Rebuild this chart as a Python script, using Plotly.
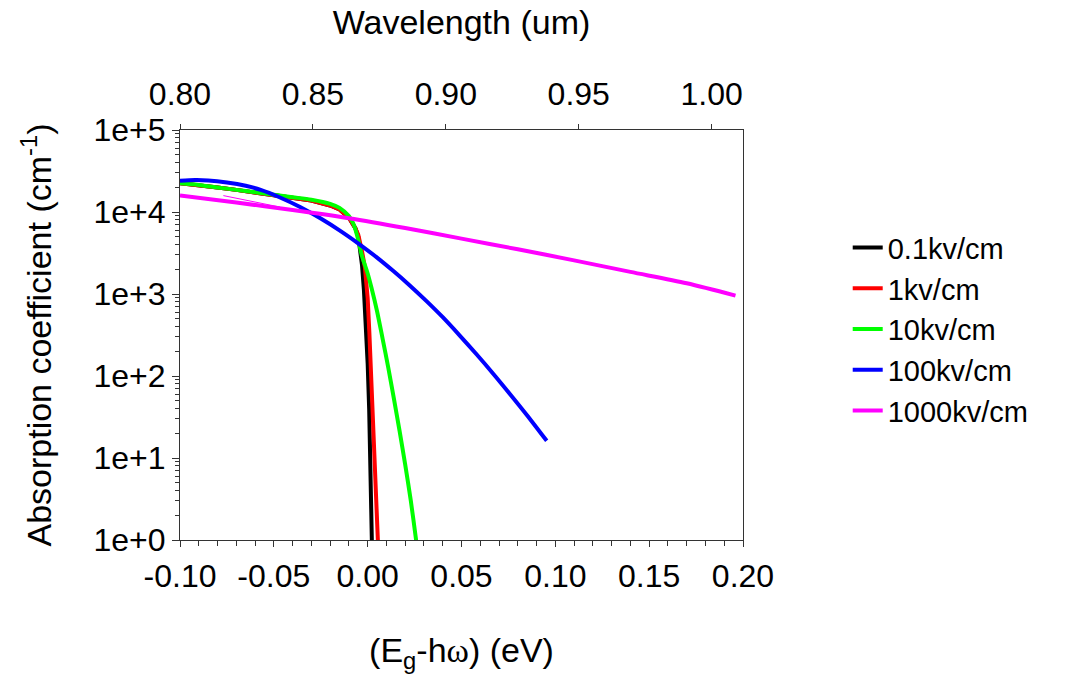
import plotly.graph_objects as go

# ---- data ----
x_black = [-0.100, -0.090, -0.080, -0.070, -0.060, -0.050, -0.040, -0.030, -0.020, -0.015, -0.010,
           -0.0065, -0.0050, -0.0040, -0.0030, -0.0020, -0.0010, 0.0000, 0.0008, 0.0015, 0.0022, 0.0024]
y_black = [22400, 21380, 19950, 18620, 17380, 16220, 15140, 13800, 12020, 10720, 8510,
           6310, 5010, 3550, 2240, 1120, 447, 141, 39.8, 8.9, 1.26, 0.63]

x_red = [-0.100, -0.090, -0.080, -0.070, -0.060, -0.050, -0.040, -0.030, -0.020, -0.015, -0.010,
         -0.0065, -0.0050, -0.0040, -0.0030, -0.0015, 0.0000, 0.0009, 0.0016, 0.0023, 0.0036, 0.0054, 0.0057]
y_red = [22400, 21380, 19950, 18620, 17380, 16220, 15140, 13800, 12020, 10720, 8510,
         6310, 5250, 4270, 3310, 2140, 891, 339, 132, 51.3, 7.9, 1.0, 0.71]

x_green = [-0.100, -0.090, -0.080, -0.070, -0.060, -0.050, -0.040, -0.030, -0.020, -0.015, -0.010,
           -0.0075, -0.0050, -0.0030, 0.0000, 0.0020, 0.0050, 0.0080, 0.0110, 0.0140, 0.0170,
           0.0200, 0.0230, 0.0258, 0.0265]
y_green = [22400, 21380, 19950, 18620, 17380, 16220, 15140, 14130, 12590, 11220, 8910,
           7080, 4570, 2880, 1780, 1200, 617, 282, 126, 52.5, 21.4,
           8.3, 3.0, 1.0, 0.76]

x_blue = [-0.100, -0.092, -0.085, -0.075, -0.065, -0.057, -0.047, -0.036, -0.025, -0.015, -0.004,
          0.005, 0.0137, 0.022, 0.0315, 0.040, 0.0492, 0.058, 0.067, 0.076, 0.0848, 0.0954]
y_blue = [23990, 24550, 24270, 22910, 20890, 18620, 15140, 11500, 8320, 5970, 3980,
          2780, 1905, 1300, 813, 521, 309, 184, 106, 59.6, 33.5, 16.2]

x_magenta = [-0.100, -0.070, -0.040, -0.010, 0.020, 0.050, 0.080, 0.110, 0.140, 0.170, 0.196]
y_magenta = [15850, 13030, 10590, 8410, 6380, 4730, 3510, 2570, 1860, 1350, 955]

# faint thin magenta segment visible in the reference
x_magenta_thin = [-0.0769, -0.0467]
y_magenta_thin = [15850, 11480]

series_names = ["0.1kv/cm", "1kv/cm", "10kv/cm", "100kv/cm", "1000kv/cm"]
series_colors = ["#000000", "#ff0000", "#00ff00", "#0000ff", "#ff00ff"]
series_shapes = ["linear", "linear", "spline", "spline", "spline"]

x_tickvals = [-0.10, -0.05, 0.00, 0.05, 0.10, 0.15, 0.20]
x_ticktext = ["-0.10", "-0.05", "0.00", "0.05", "0.10", "0.15", "0.20"]
wl_tickvals = [0.80, 0.85, 0.90, 0.95, 1.00]
wl_ticktext = ["0.80", "0.85", "0.90", "0.95", "1.00"]
y_tickvals = [1, 10, 100, 1000, 10000, 100000]
y_ticktext = ["1e+0", "1e+1", "1e+2", "1e+3", "1e+4", "1e+5"]
y_minor = [k * 10 ** d for d in range(5) for k in range(2, 10)]

energy_range = [-0.10, 0.20]
wavelength_range = [0.80, 1.0118]

FONT = "Liberation Sans, Arial, sans-serif"
FS_TICK = 32
FS_TITLE = 34
FS_LEG = 29

fig = go.Figure()
xs = [x_black, x_red, x_green, x_blue, x_magenta]
ys = [y_black, y_red, y_green, y_blue, y_magenta]
for xv, yv, name, col, shp in zip(xs, ys, series_names, series_colors, series_shapes):
    fig.add_trace(go.Scatter(x=xv, y=yv, mode="lines", name=name,
                             line=dict(color=col, width=4, shape=shp, smoothing=0.8)))
fig.add_trace(go.Scatter(x=x_magenta_thin, y=y_magenta_thin, mode="lines", showlegend=False,
                         line=dict(color="#ff00ff", width=1), hoverinfo="skip"))

axis_common = dict(showline=True, linecolor="#333333", linewidth=1, showgrid=False, zeroline=False,
                   tickcolor="#333333", tickfont=dict(family=FONT, size=FS_TICK, color="black"))

fig.update_layout(
    width=1070, height=682,
    margin=dict(l=180, r=327, t=130, b=142),
    paper_bgcolor="white", plot_bgcolor="white",
    font=dict(family=FONT, size=FS_TICK, color="black"),
    xaxis=dict(range=energy_range, tickvals=x_tickvals, ticktext=x_ticktext,
               ticks="outside", ticklen=6, ticklabelstandoff=2,
               minor=dict(dtick=0.01, ticks="outside", ticklen=5, tickcolor="#333333"),
               title=dict(text="(E<sub>g</sub>-h<span style=\"font-family:'Liberation Serif'\">ω</span>) (eV)",
                          font=dict(family=FONT, size=FS_TITLE), standoff=44),
               **axis_common),
    xaxis2=dict(range=wavelength_range, overlaying="x", side="top", anchor="y",
                tickvals=wl_tickvals, ticktext=wl_ticktext, ticks="outside", ticklen=5,
                ticklabelstandoff=6,
                title=dict(text="Wavelength (um)", font=dict(family=FONT, size=FS_TITLE), standoff=31),
                **axis_common),
    yaxis=dict(type="log", range=[0, 5], tickvals=y_tickvals, ticktext=y_ticktext,
               ticks="outside", ticklen=7, mirror=True,
               minor=dict(tickvals=y_minor, ticks="outside", ticklen=4, tickcolor="#333333"),
               title=dict(text="Absorption coefficient (cm<sup>-1</sup>)",
                          font=dict(family=FONT, size=FS_TITLE), standoff=31),
               **axis_common),
    legend=dict(x=1.186, xanchor="left", y=0.775, yanchor="top", font=dict(family=FONT, size=FS_LEG),
                bgcolor="rgba(0,0,0,0)", itemwidth=30, tracegroupgap=0),
    showlegend=True,
)
# invisible trace on the wavelength axis so the top axis renders
fig.add_trace(go.Scatter(x=wavelength_range, y=[1, 1], xaxis="x2", mode="lines",
                         line=dict(width=0), showlegend=False, hoverinfo="skip", opacity=0))

fig.write_html("out.html")
